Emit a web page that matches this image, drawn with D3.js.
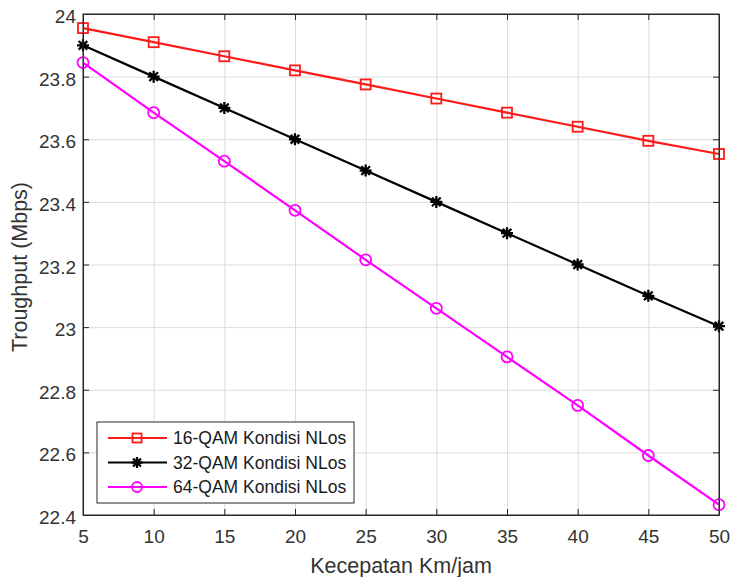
<!DOCTYPE html>
<html>
<head>
<meta charset="utf-8">
<script src="https://cdn.jsdelivr.net/npm/d3@7"></script>
<style>
  body { margin: 0; background: #fff; }
  svg { font-family: "Liberation Sans", Arial, Helvetica, sans-serif; }
  .grid line { stroke: #dcdcdc; stroke-width: 1; }
  .grid path { stroke: none; }
  .axis path, .axis line { stroke: #262626; stroke-width: 1; }
  .axis text { fill: #333; font-size: 19px; }
</style>
</head>
<body>
<script>
// Chart data
var speeds = [5, 10, 15, 20, 25, 30, 35, 40, 45, 50];
var qam16 = [23.955, 23.91, 23.865, 23.82, 23.775, 23.73, 23.685, 23.64, 23.595, 23.553];
var qam32 = [23.9, 23.8, 23.7, 23.6, 23.5, 23.4, 23.3, 23.2, 23.1, 23.003];
var qam64 = [23.845, 23.685, 23.53, 23.373, 23.215, 23.06, 22.905, 22.75, 22.59, 22.433];
var yTicks = [22.4, 22.6, 22.8, 23, 23.2, 23.4, 23.6, 23.8, 24];
var yTickLabels = ["22.4", "22.6", "22.8", "23", "23.2", "23.4", "23.6", "23.8", "24"];
var seriesNames = ["16-QAM Kondisi NLos", "32-QAM Kondisi NLos", "64-QAM Kondisi NLos"];

var svgWidth = 730;
var svgHeight = 577;
var margin = { top: 14, right: 11, bottom: 62, left: 83 };
var width = svgWidth - margin.left - margin.right;
var height = svgHeight - margin.top - margin.bottom;

var svg = d3.select("body")
  .append("svg")
  .attr("width", svgWidth)
  .attr("height", svgHeight);

var chartGroup = svg.append("g")
  .attr("transform", `translate(${margin.left}, ${margin.top})`);

var xScale = d3.scaleLinear().domain([5, 50]).range([0, width]);
var yScale = d3.scaleLinear().domain([22.4, 24]).range([height, 0]);

// grid
chartGroup.append("g")
  .classed("grid", true)
  .attr("transform", `translate(0, ${height})`)
  .call(d3.axisBottom(xScale).tickValues(speeds).tickSize(-height).tickFormat(""));
chartGroup.append("g")
  .classed("grid", true)
  .call(d3.axisLeft(yScale).tickValues(yTicks).tickSize(-width).tickFormat(""));

// axes with inward ticks
chartGroup.append("g")
  .classed("axis", true)
  .attr("transform", `translate(0, ${height})`)
  .call(d3.axisBottom(xScale).tickValues(speeds).tickSizeInner(-6).tickSizeOuter(0).tickPadding(15));
chartGroup.append("g")
  .classed("axis", true)
  .call(d3.axisTop(xScale).tickValues(speeds).tickSizeInner(-6).tickSizeOuter(0).tickFormat(""));
var leftAxis = chartGroup.append("g")
  .classed("axis", true)
  .call(d3.axisLeft(yScale).tickValues(yTicks).tickSizeInner(-6).tickSizeOuter(0).tickPadding(7)
    .tickFormat((d, i) => yTickLabels[i]));
leftAxis.selectAll("text").attr("dy", "0.45em");
chartGroup.append("g")
  .classed("axis", true)
  .attr("transform", `translate(${width}, 0)`)
  .call(d3.axisRight(yScale).tickValues(yTicks).tickSizeInner(-6).tickSizeOuter(0).tickFormat(""));

// markers
function squareMarker(g, s) {
  g.append("rect").attr("x", -s / 2).attr("y", -s / 2).attr("width", s).attr("height", s);
}
function circleMarker(g, s) {
  g.append("circle").attr("r", s / 2);
}
function starMarker(g, s) {
  var r = s / 2, q = r * 0.72;
  g.append("path").attr("d",
    `M${-r},0L${r},0M0,${-r}L0,${r}M${-q},${-q}L${q},${q}M${-q},${q}L${q},${-q}`);
}

var series = [
  { name: seriesNames[0], values: qam16, color: "#ff1a1a", marker: squareMarker, size: 10, sw: 1.8 },
  { name: seriesNames[1], values: qam32, color: "#000000", marker: starMarker, size: 12, sw: 2.3 },
  { name: seriesNames[2], values: qam64, color: "#ff00ff", marker: circleMarker, size: 11, sw: 1.8 }
];

var line = d3.line()
  .x((d, i) => xScale(speeds[i]))
  .y(d => yScale(d));

series.forEach(function(s) {
  chartGroup.append("path")
    .datum(s.values)
    .attr("d", line)
    .attr("fill", "none")
    .attr("stroke", s.color)
    .attr("stroke-width", 2.2);

  s.values.forEach(function(v, i) {
    var m = chartGroup.append("g")
      .attr("transform", `translate(${xScale(speeds[i])}, ${yScale(v)})`)
      .attr("fill", "none")
      .attr("stroke", s.color)
      .attr("stroke-width", s.sw);
    s.marker(m, s.size);
  });
});

// box
chartGroup.append("rect")
  .attr("width", width)
  .attr("height", height)
  .attr("fill", "none")
  .attr("stroke", "#262626")
  .attr("stroke-width", 1);

// legend
var legend = svg.append("g").attr("transform", "translate(97, 422)");
legend.append("rect")
  .attr("width", 257)
  .attr("height", 81)
  .attr("fill", "#fff")
  .attr("stroke", "#262626")
  .attr("stroke-width", 1);

series.forEach(function(s, i) {
  var row = legend.append("g").attr("transform", `translate(0, ${16 + i * 24.5})`);
  row.append("line")
    .attr("x1", 11).attr("x2", 70)
    .attr("stroke", s.color)
    .attr("stroke-width", 2.2);
  var m = row.append("g")
    .attr("transform", "translate(40, 0)")
    .attr("fill", "none")
    .attr("stroke", s.color)
    .attr("stroke-width", s.sw);
  s.marker(m, s.size - 1);
  row.append("text")
    .attr("x", 76)
    .attr("dy", "0.36em")
    .attr("fill", "#1a1a1a")
    .style("font-size", "17.5px")
    .text(s.name);
});

// axis labels
svg.append("text")
  .attr("x", margin.left + width / 2)
  .attr("y", 573)
  .attr("text-anchor", "middle")
  .attr("fill", "#333")
  .style("font-size", "21.5px")
  .text("Kecepatan Km/jam");

svg.append("text")
  .attr("transform", "translate(27, 267) rotate(-90)")
  .attr("text-anchor", "middle")
  .attr("fill", "#333")
  .style("font-size", "21.5px")
  .text("Troughput (Mbps)");
</script>
</body>
</html>
